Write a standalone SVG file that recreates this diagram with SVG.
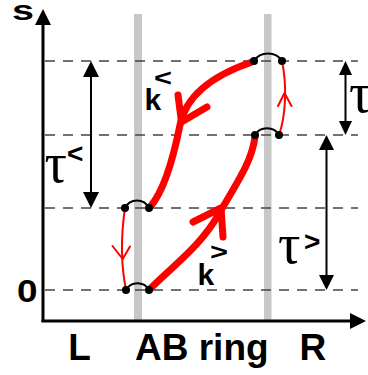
<svg xmlns="http://www.w3.org/2000/svg" width="368" height="375" viewBox="0 0 368 375">
<style>
.bar{fill:#c8c8c8}
.dash{stroke:#444;stroke-width:1.4;stroke-dasharray:10 8;fill:none}
.axis{stroke:#000;stroke-width:3;fill:none}
.tl{stroke:#000;stroke-width:2;fill:none}
.head{fill:#000}
.dot{fill:#000}
.arc{stroke:#000;stroke-width:2;fill:none}
.thin{stroke:#f00;stroke-width:2;fill:none;stroke-linecap:round;stroke-linejoin:round}
.thick{stroke:#f00;stroke-width:7;fill:none;stroke-linecap:round;stroke-linejoin:round}
.lab{font-family:"Liberation Sans",Arial,sans-serif;font-weight:bold;fill:#000}
.tau{font-family:"Liberation Serif","Times New Roman",serif;fill:#000}
</style>
<rect width="368" height="375" fill="#fff"/>
<g id="rings">
<rect class="bar" x="134" y="14" width="8" height="307"/>
<rect class="bar" x="264" y="14" width="7.5" height="307"/>
</g>
<g id="levels">
<line class="dash" x1="45" y1="61" x2="358" y2="61"/>
<line class="dash" x1="45" y1="135" x2="358" y2="135"/>
<line class="dash" x1="45" y1="208" x2="358" y2="208"/>
<line class="dash" x1="45" y1="290" x2="358" y2="290"/>
</g>
<g id="axes">
<line class="axis" x1="43" y1="322" x2="43" y2="22"/>
<polygon class="head" points="43,9 35,25 51,25"/>
<line class="axis" x1="41.5" y1="321" x2="352" y2="321"/>
<polygon class="head" points="366,321 350,313 350,329"/>
</g>
<g id="tau-arrows">
<line class="tl" x1="91" y1="74" x2="91" y2="195"/>
<polygon class="head" points="91,61 83,77 99,77"/>
<polygon class="head" points="91,208 83,192 99,192"/>
<line class="tl" x1="345.5" y1="72" x2="345.5" y2="124"/>
<polygon class="head" points="345.5,61 339,75 352,75"/>
<polygon class="head" points="345.5,135 339,121 352,121"/>
<line class="tl" x1="326.5" y1="147" x2="326.5" y2="278"/>
<polygon class="head" points="326.5,135 319,150 334,150"/>
<polygon class="head" points="326.5,290 319,275 334,275"/>
</g>
<g id="connectors">
<path class="thin" d="M282,61 C287,85 286,115 279,135"/>
<path class="thin" d="M278,106 L284.5,93 L291.5,106"/>
<path class="thin" d="M125,208 C121,235 121,265 126,290"/>
<path class="thin" d="M112.5,246 L122.7,259 L130,246.5"/>
<path class="thick" d="M252,62 C205,78 185,100 180,125 S165,190 150,207"/>
<path class="thick" d="M178,95 L181.5,122 L207,107"/>
<path class="thick" d="M150,289 C170,268 200,248 220,212 C240,178 252,160 255,137"/>
<path class="thick" d="M193,222 L221,208 L223,237"/>
</g>
<g id="node-top-right">
<path class="arc" d="M254,61 C260,51 276,51 282,61"/>
<circle class="dot" cx="254" cy="61" r="4"/>
<circle class="dot" cx="282" cy="61" r="4"/>
</g>
<g id="node-mid-right">
<path class="arc" d="M255,135 C260,126 274,126 279,135"/>
<circle class="dot" cx="255" cy="135" r="4"/>
<circle class="dot" cx="279" cy="135" r="4"/>
</g>
<g id="node-mid-left">
<path class="arc" d="M125,208 C130,198 144,198 149,208"/>
<circle class="dot" cx="125" cy="208" r="4"/>
<circle class="dot" cx="149" cy="208" r="4"/>
</g>
<g id="node-bottom-left">
<path class="arc" d="M126,290 C131,281 144,281 149,290"/>
<circle class="dot" cx="126" cy="290" r="4"/>
<circle class="dot" cx="149" cy="290" r="4"/>
</g>
<g id="labels">
<text class="lab" x="12" y="20" font-size="27" textLength="22" lengthAdjust="spacingAndGlyphs">s</text>
<text class="lab" x="17" y="302" font-size="31" textLength="20.5" lengthAdjust="spacingAndGlyphs">0</text>
<text class="lab" x="68.3" y="360" font-size="37">L</text>
<text class="lab" x="135" y="360" font-size="37">AB ring</text>
<text class="lab" x="299.5" y="360" font-size="37">R</text>
<text class="lab" x="144.5" y="110" font-size="30">k</text>
<text class="lab" x="154" y="85.5" font-size="24" textLength="18" lengthAdjust="spacingAndGlyphs">&lt;</text>
<text class="lab" x="197.5" y="285" font-size="30">k</text>
<text class="lab" x="210" y="260" font-size="24" textLength="18" lengthAdjust="spacingAndGlyphs">&gt;</text>
<text class="tau" x="44.5" y="182" font-size="56">τ</text>
<text class="lab" x="67" y="163" font-size="28">&lt;</text>
<text class="tau" x="278" y="263" font-size="56">τ</text>
<text class="lab" x="304" y="251" font-size="28">&gt;</text>
<text class="tau" x="349" y="112" font-size="56">τ</text>
</g>
</svg>
